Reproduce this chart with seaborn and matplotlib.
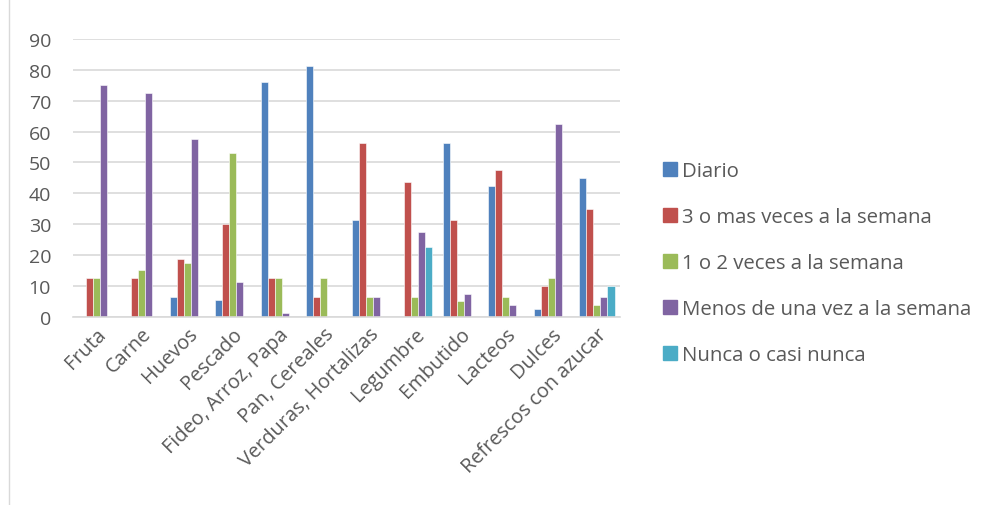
import matplotlib
matplotlib.use("Agg")
import matplotlib.pyplot as plt
import seaborn as sns
import pandas as pd
from matplotlib.lines import Line2D

categories = ["Fruta", "Carne", "Huevos", "Pescado", "Fideo, Arroz, Papa", "Pan, Cereales",
              "Verduras, Hortalizas", "Legumbre", "Embutido", "Lacteos", "Dulces",
              "Refrescos con azucar"]
series = ["Diario", "3 o mas veces a la semana", "1 o 2 veces a la semana",
          "Menos de una vez a la semana", "Nunca o casi nunca"]
diario = [0, 0, 6.25, 5.5, 76.2, 81.25, 31.25, 0, 56.25, 42.5, 2.5, 45]
tres_mas = [12.5, 12.5, 18.75, 30, 12.5, 6.25, 56.25, 43.75, 31.25, 47.5, 10, 35]
uno_dos = [12.5, 15, 17.5, 52.9, 12.5, 12.5, 6.25, 6.25, 5, 6.25, 12.5, 3.75]
menos = [75, 72.5, 57.5, 11.3, 1.25, 0, 6.25, 27.5, 7.5, 3.75, 62.5, 6.25]
nunca = [0, 0, 0, 0, 0, 0, 0, 22.5, 0, 0, 0, 10]
colors = ["#4F81BD", "#C0504D", "#9BBB59", "#8064A2", "#4BACC6"]

rows = []
for s, vals in zip(series, [diario, tres_mas, uno_dos, menos, nunca]):
    for c, v in zip(categories, vals):
        rows.append({"cat": c, "serie": s, "val": v})
df = pd.DataFrame(rows)

sns.set_theme(style="white")
plt.rcParams["font.family"] = ["Open Sans", "DejaVu Sans"]
text_color = "#595959"

fig = plt.figure(figsize=(9.9, 5.06), dpi=100)
ax = fig.add_axes([0.074, 0.372, 0.552, 0.549])
sns.barplot(data=df, x="cat", y="val", hue="serie", order=categories, hue_order=series,
            palette=colors, width=0.77, ax=ax, saturation=1, legend=False,
            edgecolor="white", linewidth=0.4)
ax.set_ylim(0, 90)
ax.set_yticks(range(0, 91, 10))
ax.yaxis.grid(True, color="#D9D9D9", linewidth=1.2)
ax.set_axisbelow(True)
for sp in ["top", "right", "left"]:
    ax.spines[sp].set_visible(False)
ax.spines["bottom"].set_color("#D9D9D9")
ax.spines["bottom"].set_linewidth(1.2)
ax.set_xlabel("")
ax.set_ylabel("")
ax.tick_params(axis="y", length=0, labelsize=14, colors=text_color, pad=16)
ax.set_xticks(range(len(categories)))
ax.set_xticklabels(categories, rotation=45, ha="right", rotation_mode="anchor")
ax.tick_params(axis="x", length=0, labelsize=14.3, colors=text_color, pad=5)
ax.set_xlim(-0.5, len(categories) - 0.5)

handles = [Line2D([0], [0], marker="s", linestyle="", markersize=10, markerfacecolor=c,
                  markeredgecolor=c) for c in colors]
leg = fig.legend(handles, series, loc="center left", bbox_to_anchor=(0.648, 0.478),
                 frameon=False, fontsize=14.7, labelspacing=1.27, handletextpad=0.1,
                 handlelength=1.0)
for t in leg.get_texts():
    t.set_color(text_color)

fig.add_artist(Line2D([0.009, 0.009], [0.0, 1.0], color="#D9D9D9", linewidth=1,
                      transform=fig.transFigure))

fig.savefig("out.png", dpi=100)
